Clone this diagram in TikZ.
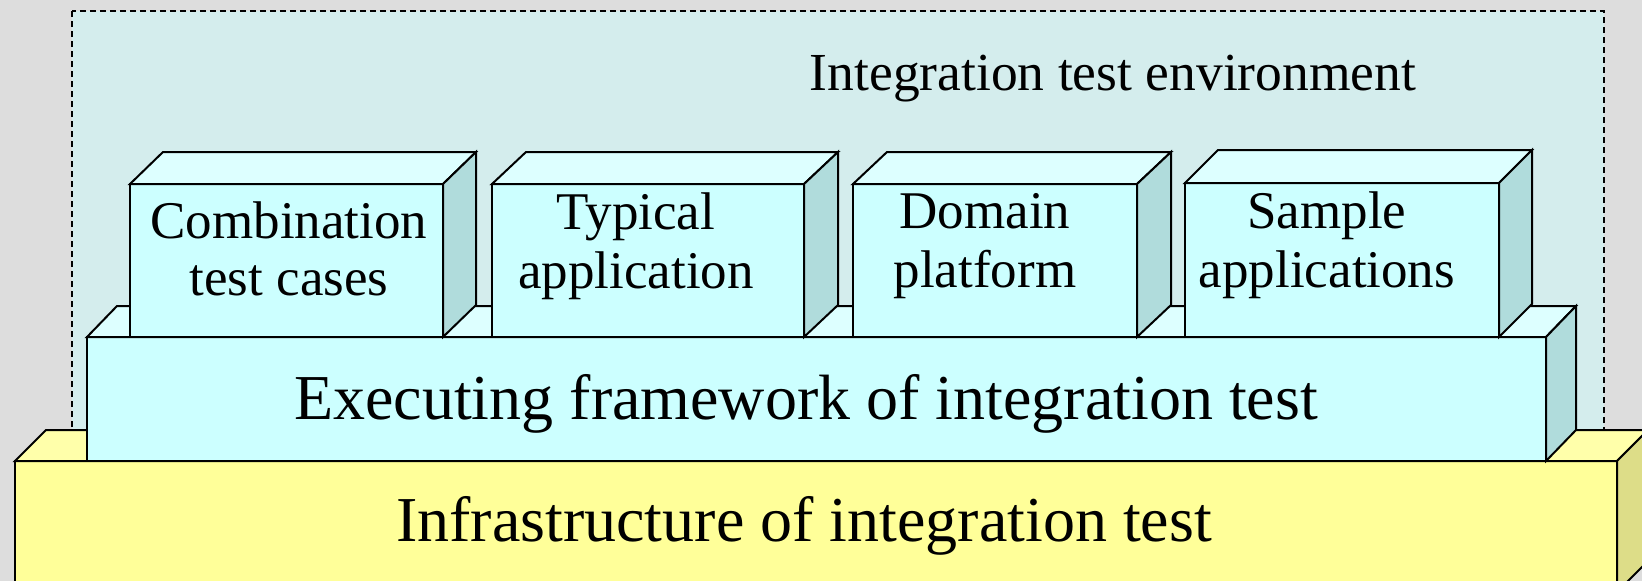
\documentclass[tikz,border=0pt]{standalone}
\usepackage{fontspec}
\setmainfont{Liberation Serif}
\definecolor{bggray}{HTML}{DDDDDD}
\definecolor{envfill}{HTML}{D4EDED}
\definecolor{cyfrontc}{HTML}{CCFFFF}
\definecolor{cytopc}{HTML}{DDFFFF}
\definecolor{cysidec}{HTML}{B0DCDC}
\definecolor{ylfrontc}{HTML}{FFFF99}
\definecolor{yltopc}{HTML}{FFFFAA}
\definecolor{ylsidec}{HTML}{DDDD88}
\tikzset{
  edgeline/.style={draw=black, line width=2pt, line join=miter},
  cyfront/.style={edgeline, fill=cyfrontc},
  cytop/.style={edgeline, fill=cytopc},
  cyside/.style={edgeline, fill=cysidec},
  ylfront/.style={edgeline, fill=ylfrontc},
  yltop/.style={edgeline, fill=yltopc},
  ylside/.style={edgeline, fill=ylsidec},
  envbox/.style={fill=envfill, draw=black, line width=2.2pt, dash pattern=on 6pt off 4pt},
  lbl/.style={inner sep=0pt, outer sep=0pt, anchor=base, text=black},
}
\newcommand{\envfont}{\fontsize{53.5}{60}\selectfont}
\newcommand{\bigfont}{\fontsize{64}{70}\selectfont}
\newcommand{\cuboid}[7]{%
  \path[#7front] (#1,#2) rectangle (#3,#4);
  \path[#7top] (#1,#2) -- (#1+#5,#2-#6) -- (#3+#5,#2-#6) -- (#3,#2) -- cycle;
  \path[#7side] (#3,#2) -- (#3+#5,#2-#6) -- (#3+#5,#4-#6) -- (#3,#4) -- cycle;
}
\begin{document}
\begin{tikzpicture}[x=1pt,y=-1pt]
\useasboundingbox (0,0) rectangle (1642,581);
\clip (0,0) rectangle (1642,581);
\fill[bggray] (0,0) rectangle (1642,581);
% integration test environment
\path[envbox] (72,11) rectangle (1604,431);
\node[lbl, font=\envfont] (envlbl) at (1113,90) {Integration test environment};
% infrastructure
\cuboid{15}{461}{1617}{592}{31}{31}{yl}
% executing framework
\cuboid{87}{337}{1546}{461}{30}{31}{cy}
% four components
\cuboid{130}{184}{443}{337}{33}{32}{cy}
\cuboid{492}{184}{804}{337}{34}{32}{cy}
\cuboid{853}{184}{1137}{337}{34}{32}{cy}
\cuboid{1185}{183}{1499}{337}{33}{33}{cy}
% labels
\node[lbl, font=\bigfont] (infralbl) at (804,541) {Infrastructure of integration test};
\node[lbl, font=\bigfont] (execlbl) at (806,419) {Executing framework of integration test};
\node[lbl, font=\fontsize{53}{57}\selectfont] (comblbl) at (289,238)
  {\begin{tabular}[t]{@{}c@{}}Combination\\test cases\end{tabular}};
\node[lbl, font=\fontsize{53}{59}\selectfont] (typlbl) at (636,229)
  {\begin{tabular}[t]{@{}c@{}}Typical\\application\end{tabular}};
\node[lbl, font=\fontsize{53}{59}\selectfont] (domlbl) at (985,228)
  {\begin{tabular}[t]{@{}c@{}}Domain\\platform\end{tabular}};
\node[lbl, font=\fontsize{53}{59}\selectfont] (smplbl) at (1327,228)
  {\begin{tabular}[t]{@{}c@{}}Sample\\applications\end{tabular}};
\end{tikzpicture}
\end{document}
